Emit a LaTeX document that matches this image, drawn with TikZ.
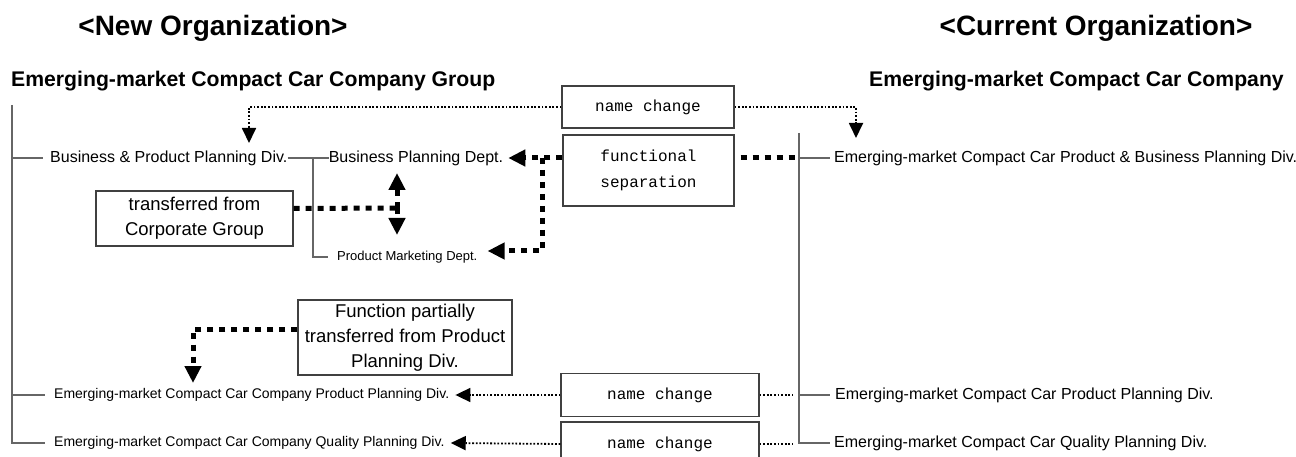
\documentclass[tikz,border=0pt]{standalone}
\usepackage{fontspec}
\setmainfont{Liberation Sans}
\setmonofont{Liberation Mono}
\usetikzlibrary{positioning,arrows.meta}

\begin{document}
\begin{tikzpicture}[x=1pt,y=-1pt,
   org title/.style={font=\fontsize{28}{30}\selectfont\bfseries},
   company/.style={inner sep=0pt,font=\fontsize{21.2}{23}\selectfont\bfseries},
   unit/.style={anchor=west,inner sep=0pt,font=\fontsize{16}{18}\selectfont},
   small unit/.style={unit,font=\fontsize{14}{16}\selectfont},
   note box/.style={draw=black!75,line width=1.2pt,align=center,inner sep=0pt,font=\fontsize{18.5}{25}\selectfont},
   change box/.style={draw=black!75,line width=1.2pt,align=center,inner sep=0pt,font=\ttfamily\fontsize{16}{26}\selectfont},
   tree/.style={draw=black!60,line width=1.2pt},
   thin dots/.style={line width=1.8pt,dash pattern=on 1.8pt off 1.8pt},
   thin link/.style={thin dots,-{Triangle[length=15pt,width=14pt]}},
   thick dots/.style={line width=5pt,dash pattern=on 6pt off 6pt},
   thick link/.style={thick dots,-{Triangle[length=17pt,width=16pt]}}]

  \useasboundingbox (0,0) rectangle (1296,457);

  % titles
  \node[org title] (new org) at (213,28) {<New Organization>};
  \node[org title] (cur org) at (1096,28) {<Current Organization>};
  \node[company,anchor=west] (new co) at (11,81) {Emerging-market Compact Car Company Group};
  \node[company,anchor=east] (cur co) at (1284,81) {Emerging-market Compact Car Company};

  % new organization
  \node[unit] (bppd) at (50,158) {Business \& Product Planning Div.};
  \node[unit] (bpl) [right=41pt of bppd] {Business Planning Dept.};
  \node[unit,font=\fontsize{13}{15}\selectfont] (pmd) at (337,257) {Product Marketing Dept.};
  \node[small unit] (lpp) at (54,395) {Emerging-market Compact Car Company Product Planning Div.};
  \node[small unit] (lqp) at (54,443) {Emerging-market Compact Car Company Quality Planning Div.};

  % current organization
  \node[unit] (rpb) at (834,158) {Emerging-market Compact Car Product \& Business Planning Div.};
  \node[unit] (rpp) at (835,395) {Emerging-market Compact Car Product Planning Div.};
  \node[unit] (rqp) at (834,443) {Emerging-market Compact Car Quality Planning Div.};

  % boxes
  \node[note box,minimum width=197pt,minimum height=55pt] (cg) at (194.5,218.5) {transferred from\\Corporate Group};
  \node[note box,minimum width=214pt,minimum height=75pt] (pp) at (405,337.5) {Function partially\\transferred from Product\\Planning Div.};
  \node[change box,minimum width=172pt,minimum height=42pt] (nc1) at (648,107) {name change};
  \node[change box,minimum width=171pt,minimum height=71pt] (fs) at (648.5,170.5) {functional\\separation};
  \node[change box,minimum width=198pt,minimum height=43pt] (nc2) at (660,395) {name change};
  \node[change box,minimum width=198pt,minimum height=44pt] (nc3) at (660,444) {name change};

  \coordinate (lroot) at (12,105);
  \coordinate (rroot) at (799,133);
  \coordinate (split) at (313,158);
  \coordinate (fork) at (542,158);
  \coordinate (cg fork) at (397,208);
  \coordinate (nc1 left) at (249,143);
  \coordinate (nc1 right) at (856,138);
  \coordinate (pp tip) at (193,383);

  % tree lines
  \draw[tree] (lroot) |- ([xshift=-9pt]lqp.west);
  \draw[tree] (lroot |- bppd) -- ([xshift=-7pt]bppd.west);
  \draw[tree] (lroot |- lpp) -- ([xshift=-9pt]lpp.west);
  \draw[tree] (bppd.east) -- (bpl.west);
  \draw[tree] (split) |- ([xshift=-9pt]pmd.west);
  \draw[tree] (rroot) |- ([xshift=-4pt]rqp.west);
  \draw[tree] (rroot |- rpb) -- ([xshift=-4pt]rpb.west);
  \draw[tree] (rroot |- rpp) -- ([xshift=-5pt]rpp.west);

  % changes
  \draw[thin link] (nc1.west) -| (nc1 left);
  \draw[thin link] (nc1.east) -| (nc1 right);
  \draw[thick link] ([yshift=12.5pt]fs.west) -- ([xshift=5pt]bpl.east);
  \draw[thick link] (fork) |- ([xshift=10pt,yshift=6pt]pmd.east);
  \draw[thick dots] ([xshift=6pt,yshift=12.5pt]fs.east) -- ([xshift=-4pt]rroot |- rpb);
  \draw[thick dots] ([yshift=10pt]cg.east) -- (cg fork);
  \foreach \tip in {173,235} \draw[thick link] (cg fork) -- (397,\tip);
  \draw[thick link] ([yshift=8.5pt]pp.west) -| (pp tip);
  \foreach \chg/\unit in {nc2/lpp,nc3/lqp} {
    \draw[thin link] (\chg.west) -- ([xshift=6pt]\unit.east);
    \draw[thin dots] (\chg.east) -- ([xshift=-6pt]rroot |- \chg);
  }
\end{tikzpicture}
\end{document}
